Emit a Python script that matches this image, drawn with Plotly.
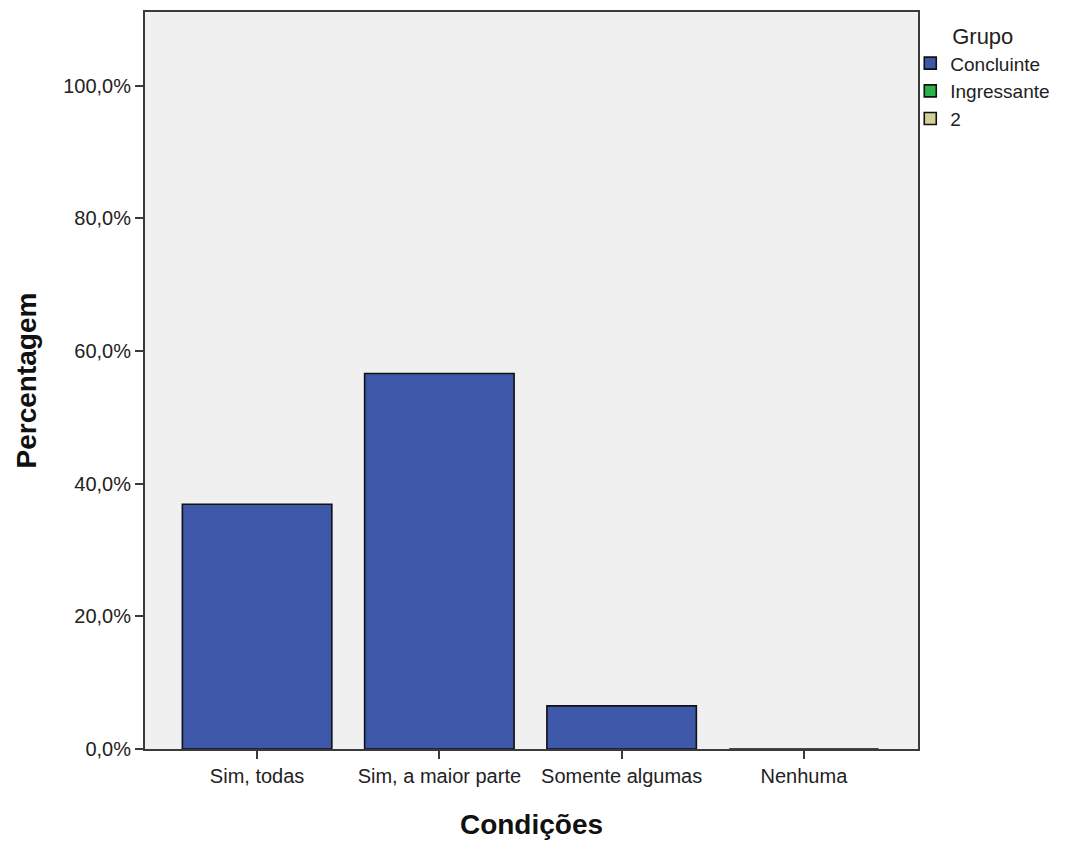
import plotly.graph_objects as go

categories = ["Sim, todas", "Sim, a maior parte", "Somente algumas", "Nenhuma"]
concluinte = [36.9, 56.6, 6.5, 0.0]
groups = ["Concluinte", "Ingressante", "2"]
group_colors = ["#3D57A9", "#2BB24C", "#D4CE98"]
y_ticks = [0, 20, 40, 60, 80, 100]
y_ticktext = ["0,0%", "20,0%", "40,0%", "60,0%", "80,0%", "100,0%"]

fig = go.Figure()
fig.add_trace(go.Bar(
    x=categories, y=concluinte, name=groups[0],
    marker=dict(color=group_colors[0], line=dict(color="#111111", width=1.6)),
    width=0.82,
))
for g, c in zip(groups[1:], group_colors[1:]):
    fig.add_trace(go.Bar(
        x=categories, y=[None] * len(categories), name=g,
        marker=dict(color=c, line=dict(color="#111111", width=1.6)),
        width=0.82,
    ))

fig.update_layout(
    width=1066, height=845,
    margin=dict(l=137, r=156, t=2, b=104),
    paper_bgcolor="white", plot_bgcolor="#F0F0F0",
    barmode="overlay",
    font=dict(family="Liberation Sans, Arial, sans-serif", color="#222222"),
    showlegend=True,
    legend=dict(
        x=0.99, y=0.995, xanchor="left", yanchor="top",
        title=dict(text="Grupo", side="top center", font=dict(size=22, color="#222222")),
        font=dict(size=19, color="#222222"),
        itemwidth=30, tracegroupgap=0,
        bgcolor="rgba(0,0,0,0)",
    ),
    xaxis=dict(
        range=[-0.615, 3.626],
        showline=True, linecolor="#3A3A3A", linewidth=2, mirror=True,
        ticks="outside", ticklen=8, tickcolor="#3A3A3A", tickwidth=2,
        tickfont=dict(size=20, color="#222222"),
        showgrid=False, zeroline=False,
        title=dict(text="<b>Condições</b>", font=dict(size=28, color="#111111"), standoff=28),
    ),
    yaxis=dict(
        range=[0, 111.1],
        tickvals=y_ticks, ticktext=y_ticktext,
        showline=True, linecolor="#3A3A3A", linewidth=2, mirror=True,
        ticks="outside", ticklen=8, tickcolor="#3A3A3A", tickwidth=2,
        tickfont=dict(size=20, color="#222222"),
        showgrid=False, zeroline=False,
        title=dict(text="<b>Percentagem</b>", font=dict(size=28, color="#111111"), standoff=18),
    ),
)

fig.write_html("out.html")
